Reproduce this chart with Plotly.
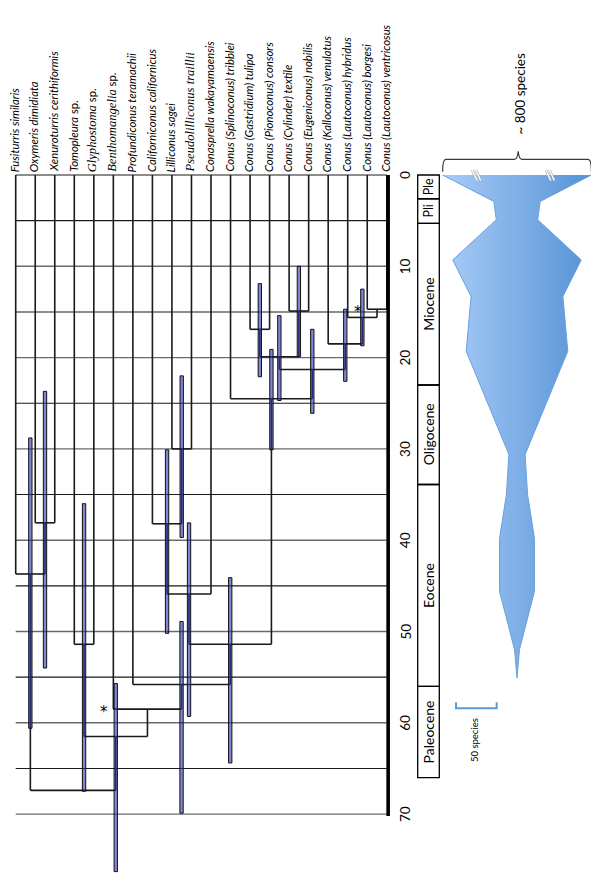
import plotly.graph_objects as go

# ---------------- data ----------------
SERIF = "<span style=\"font-family:Liberation Serif;font-size:12.6px\">"
species = [
    "<i>Fusiturris similaris</i>",
    "<i>Oxymeris dimidiata</i>",
    "<i>Xenuroturris cerithiformis</i>",
    "<i>Tomopleura</i> sp.",
    SERIF + "<i>Glyphostoma</i></span> sp.",
    SERIF + "<i>Benthomangelia</i></span> sp.",
    "<i>Profundiconus teramachii</i>",
    "<i>Californiconus californicus</i>",
    "<i>Lilliconus sagei</i>",
    SERIF + "<i>Pseudolilliconus traillii</i></span>",
    "<i>Conasprella wakayamaensis</i>",
    "<i>Conus (Splinoconus) tribblei</i>",
    "<i>Conus (Gastridium) tulipa</i>",
    "<i>Conus (Pionoconus) consors</i>",
    "<i>Conus (Cylinder) textile</i>",
    "<i>Conus (Eugeniconus) nobilis</i>",
    "<i>Conus (Kalloconus) venulatus</i>",
    "<i>Conus (Lautoconus) hybridus</i>",
    "<i>Conus (Lautoconus) borgesi</i>",
    "<i>Conus (Lautoconus) ventricosus</i>",
]

time_ticks = [0, 10, 20, 30, 40, 50, 60, 70]
grid_times = [0, 5, 10, 15, 20, 25, 30, 35, 40, 45, 50, 55, 60, 65, 70]

# internal nodes (children: int = species index, str = node id), ages in Ma
node_ids   = ["OX", "FOX", "TG", "LP", "CLP", "CLPC", "TC", "TN", "TCTN", "BV",
              "HBV", "VHBV", "C1", "C2", "C3", "P", "B", "TGB", "ROOT"]
node_left  = [1, 0, 3, 8, 7, "CLP", 12, 14, "TC", 18,
              17, 16, "TCTN", 11, "CLPC", 6, 5, "TG", "FOX"]
node_right = [2, "OX", 4, 9, "LP", 10, 13, 15, "TN", 19,
              "BV", "HBV", "VHBV", "C1", "C2", "C3", "P", "B", "TGB"]
node_age   = [38.1, 43.7, 51.4, 30.0, 38.2, 45.9, 16.9, 14.9, 19.9, 14.7,
              15.6, 18.5, 21.3, 24.5, 51.4, 55.8, 58.5, 61.5, 67.4]

# age confidence intervals
ci_node = ["OX", "FOX", "TG", "TGB", "P", "C3", "CLPC", "CLP", "LP",
           "C2", "C1", "TCTN", "TC", "TN", "VHBV", "HBV"]
ci_low  = [23.7, 28.8, 36.0, 55.7, 48.9, 44.1, 38.1, 30.1, 22.0,
           19.1, 16.9, 15.4, 11.9, 10.0, 14.7, 12.5]
ci_high = [54.0, 60.6, 67.5, 76.3, 69.9, 64.4, 59.3, 50.2, 39.7,
           30.1, 26.1, 24.7, 22.1, 19.9, 22.6, 18.7]

starred_nodes = ["B", "BV"]

epoch_names = ["Ple", "Pli", "Miocene", "Oligocene", "Eocene", "Paleocene"]
epoch_top   = [0.0, 2.6, 5.3, 23.0, 33.9, 56.0]
epoch_base  = [2.6, 5.3, 23.0, 33.9, 56.0, 66.0]

# diversity through time (number of species, drawn width)
div_time    = [0.0, 2.9, 4.9, 9.3, 13.3, 19.3, 30.6, 35.0, 39.8, 45.6, 52.0, 55.1]
div_species = [183, 57, 51, 158, 113, 125, 20, 26, 43, 43, 6, 0]
scale_species = 50
top_label = "~ 800 species"
scale_label = "50 species"

# ---------------- layout constants ----------------
W, H = 591, 880
FONT = "Lato"
n_sp = len(species)

# ---------------- tree geometry ----------------
age = dict(zip(node_ids, node_age))
pos = {}
def xp(k):
    return float(k) if isinstance(k, int) else pos[k]
def ag(k):
    return 0.0 if isinstance(k, int) else age[k]

tx, ty = [], []
for nid, l, r, a in zip(node_ids, node_left, node_right, node_age):
    xl, xr = xp(l), xp(r)
    pos[nid] = (xl + xr) / 2
    tx += [xl, xr, None]; ty += [a, a, None]
    for c in (l, r):
        tx += [xp(c), xp(c), None]; ty += [ag(c), a, None]

fig = go.Figure()

# grid lines
g10x, g10y, g5x, g5y = [], [], [], []
for t in grid_times:
    if t % 10 == 0 and t != 0:
        g10x += [0, n_sp - 1, None]; g10y += [t, t, None]
    else:
        g5x += [0, n_sp - 1, None]; g5y += [t, t, None]
fig.add_trace(go.Scatter(x=g10x, y=g10y, mode="lines",
                         line=dict(color="#6a6a6a", width=1.4), hoverinfo="skip"))
fig.add_trace(go.Scatter(x=g5x, y=g5y, mode="lines",
                         line=dict(color="#1a1a1a", width=1.1), hoverinfo="skip"))

# tree
fig.add_trace(go.Scatter(x=tx, y=ty, mode="lines",
                         line=dict(color="#1a1a1a", width=1.6), hoverinfo="skip"))

# time axis (thick)
fig.add_trace(go.Scatter(x=[n_sp - 1 + 0.07] * 2, y=[time_ticks[0], time_ticks[-1] + 0.2],
                         mode="lines", line=dict(color="black", width=3.6), hoverinfo="skip"))

# CI bars
shapes = []
hw = 0.085
for nid, lo, hi in zip(ci_node, ci_low, ci_high):
    x = pos[nid]
    shapes.append(dict(type="rect", xref="x", yref="y", x0=x - hw, x1=x + hw, y0=lo, y1=hi,
                       fillcolor="rgba(43,53,187,0.6)", line=dict(color="#111", width=1),
                       layer="above"))

# epoch boxes
bx0, bx1 = 417.7 / W, 439.3 / W
annotations = []
for name, t0, t1 in zip(epoch_names, epoch_top, epoch_base):
    shapes.append(dict(type="rect", xref="paper", yref="y", x0=bx0, x1=bx1, y0=t0, y1=t1,
                       line=dict(color="black", width=1.3), fillcolor="rgba(0,0,0,0)"))
    annotations.append(dict(x=(bx0 + bx1) / 2, y=(t0 + t1) / 2, xref="paper", yref="y",
                            text=name, textangle=-90, showarrow=False,
                            font=dict(family=FONT, size=14 if len(name) > 3 else 12.5,
                                      color="black"),
                            xanchor="center", yanchor="middle"))

# species labels
for i, s in enumerate(species):
    annotations.append(dict(x=i, y=0, xref="x", yref="y", text=s, textangle=-90,
                            showarrow=False, xanchor="center", yanchor="bottom",
                            xshift=-1.5, yshift=1,
                            font=dict(family=FONT, size=11.3, color="black")))

# time tick labels
for t in time_ticks:
    annotations.append(dict(x=405 / W, y=t, xref="paper", yref="y", text=str(t),
                            textangle=-90, showarrow=False, xanchor="center",
                            yanchor="middle", font=dict(family=FONT, size=13.5, color="black")))

# asterisks
for nid in starred_nodes:
    i = node_ids.index(nid)
    annotations.append(dict(x=xp(node_left[i]), y=node_age[i], xref="x", yref="y",
                            text="*", showarrow=False, xanchor="right", yanchor="middle",
                            xshift=-3, yshift=-3,
                            font=dict(family="DejaVu Sans", size=15, color="black")))

# ---------------- diversity spindle ----------------
xs = [-w / 2 for w in div_species] + [w / 2 for w in div_species[::-1]]
ys = div_time + div_time[::-1]
fig.add_trace(go.Scatter(x=xs, y=ys, xaxis="x2", yaxis="y", mode="lines", fill="toself",
                         fillgradient=dict(type="horizontal",
                                           colorscale=[[0, "#a9ccf8"], [1, "#5592d5"]]),
                         line=dict(color="#6aa0dc", width=1), hoverinfo="skip"))

# break marks at the top of the spindle
w0 = div_species[0] / 2
bkx, bky = [], []
for cx in (-w0 * 0.545, w0 * 0.445):
    for off in (-2.2, 2.2):
        bkx += [cx + off - 3, cx + off + 3, None]; bky += [-0.55, 0.6, None]
fig.add_trace(go.Scatter(x=bkx, y=bky, xaxis="x2", yaxis="y", mode="lines",
                         line=dict(color="#9aa9bb", width=2.6), hoverinfo="skip"))
fig.add_trace(go.Scatter(x=bkx, y=bky, xaxis="x2", yaxis="y", mode="lines",
                         line=dict(color="white", width=1.4), hoverinfo="skip"))

# brace over the top
yb, yp, ye = -1.72, -2.6, -0.36
path = (f"M {-w0:.2f},{ye} Q {-w0:.2f},{yb} {-w0 + 4:.2f},{yb} L -3,{yb} "
        f"Q 0.5,{yb} 1.5,{yp} Q 2.5,{yb} 6,{yb} L {w0 - 4:.2f},{yb} "
        f"Q {w0:.2f},{yb} {w0:.2f},{ye}")
shapes.append(dict(type="path", xref="x2", yref="y", path=path,
                   line=dict(color="#3a3a3a", width=1.2)))
annotations.append(dict(x=3.5, y=-8.9, xref="x2", yref="y", text=top_label, textangle=-90,
                        showarrow=False, xanchor="center", yanchor="middle",
                        font=dict(family=FONT, size=13.5, color="black")))

# 50-species scale bar
sx0, sx1 = -75, -75 + scale_species
fig.add_trace(go.Scatter(x=[sx0, sx0, sx1, sx1], y=[57.75, 58.4, 58.4, 57.75],
                         xaxis="x2", yaxis="y", mode="lines",
                         line=dict(color="#5b9bd5", width=2), hoverinfo="skip"))
annotations.append(dict(x=(sx0 + sx1) / 2 - 3, y=61.9, xref="x2", yref="y",
                        text=scale_label, textangle=-90, showarrow=False,
                        xanchor="center", yanchor="middle",
                        font=dict(family=FONT, size=9.5, color="black")))

# ---------------- axes ----------------
px_per_col = 19.53
x_first = 15.7
col_range = [-x_first / px_per_col, (W - x_first) / px_per_col]
px_per_sp = 0.813
spindle_center = 517
sp_range = [-spindle_center / px_per_sp, (W - spindle_center) / px_per_sp]
px_per_ma, y0_px = 9.13, 175
t_range = [(H - y0_px) / px_per_ma, -y0_px / px_per_ma]

fig.update_layout(
    width=W, height=H, autosize=False,
    margin=dict(l=0, r=0, t=0, b=0),
    paper_bgcolor="white", plot_bgcolor="white",
    showlegend=False,
    xaxis=dict(range=col_range, visible=False, fixedrange=True),
    xaxis2=dict(range=sp_range, visible=False, overlaying="x", anchor="y", fixedrange=True),
    yaxis=dict(range=t_range, visible=False, fixedrange=True),
    shapes=shapes,
    annotations=annotations,
)

fig.write_html("out.html", config={"displayModeBar": False},
               post_script="document.body.style.margin='0';document.body.style.overflow='hidden';")
